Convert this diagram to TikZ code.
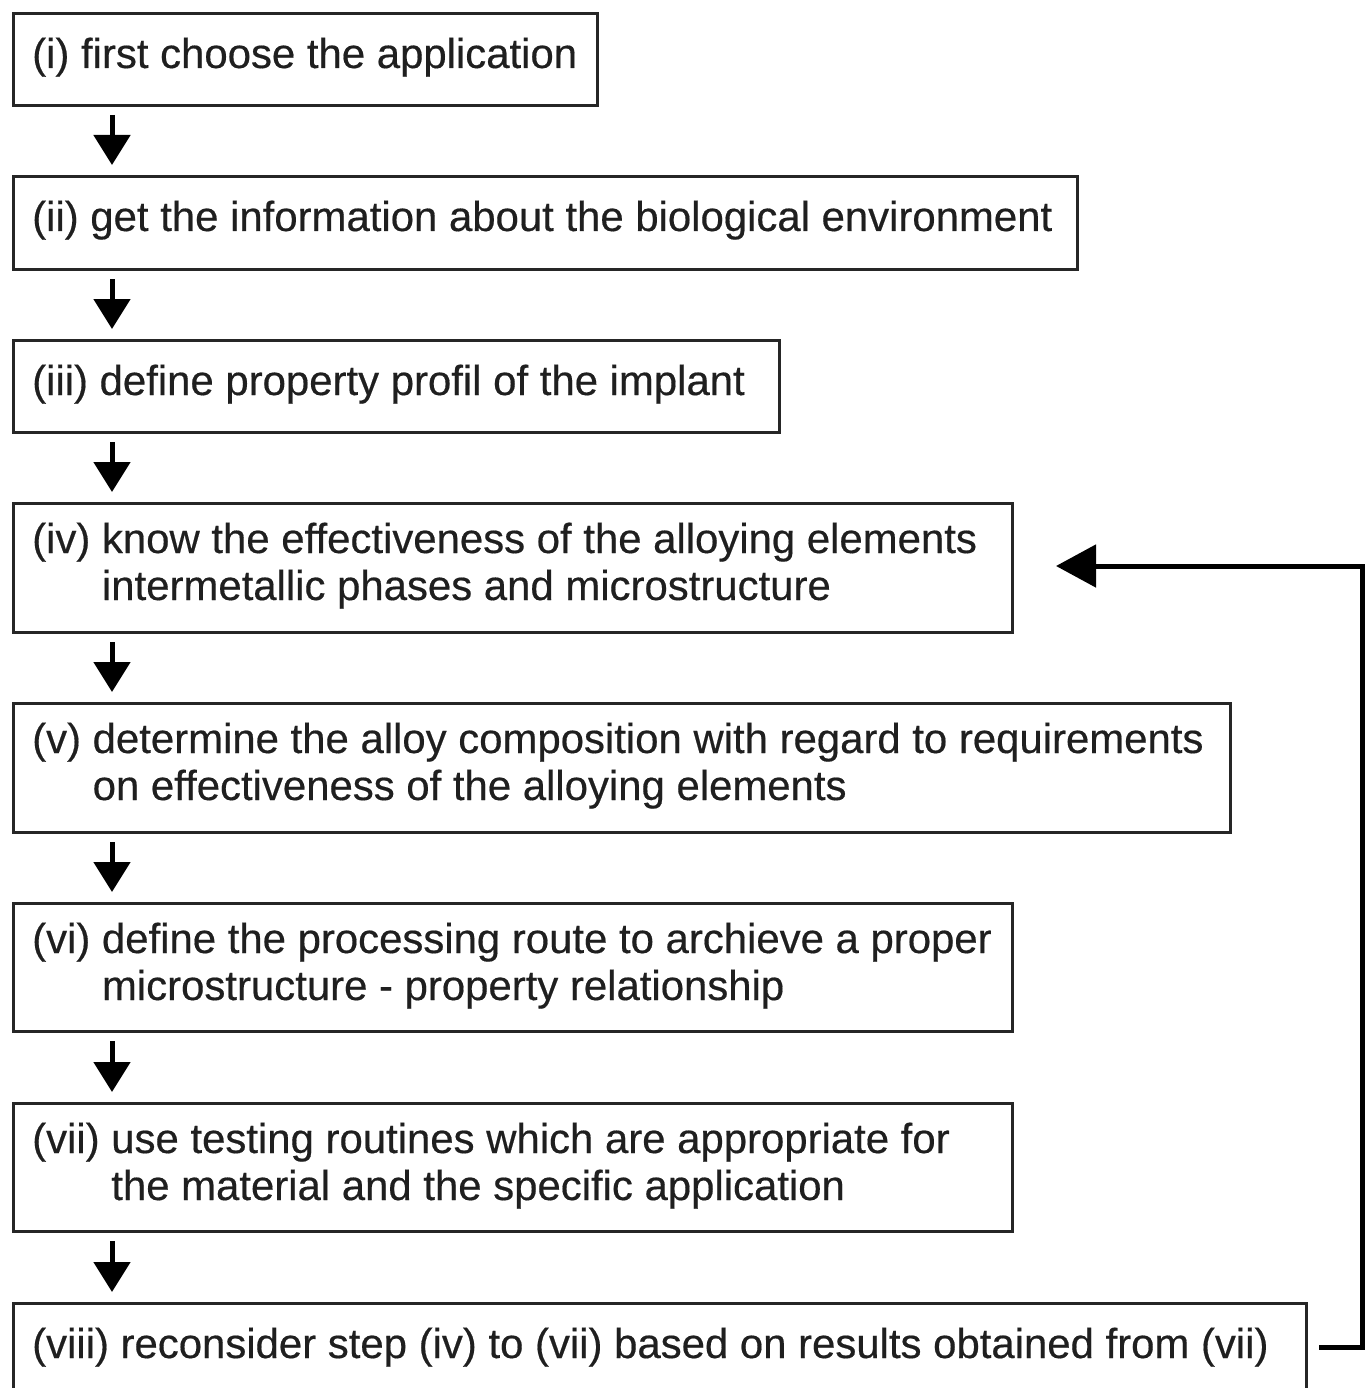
\documentclass[tikz,border=0pt]{standalone}
\usepackage{fontspec}
\setmainfont{Liberation Sans}[UprightFeatures={FakeBold=0.4}]
\usetikzlibrary{arrows.meta}
\begin{document}
\begin{tikzpicture}[x=1pt,y=-1pt,
  box/.style={draw=black!85, line width=3pt, anchor=north west, inner sep=0pt},
  txt/.style={anchor=base west, inner sep=0pt, text=black!88, font=\fontsize{41.9}{46}\selectfont},
  arr/.style={line width=5pt, black, -{Triangle[length=30pt,width=36pt]}},
  fb/.style={line width=5pt, black, -{Triangle[length=40pt,width=42pt]}}
]
\useasboundingbox (0,0) rectangle (1364,1388);
\fill[white] (0,0) rectangle (1364,1388);
% boxes
\node[box, minimum width=584pt, minimum height=92pt]  (b1) at (12,12)   {};
\node[box, minimum width=1064pt, minimum height=93pt] (b2) at (12,175)  {};
\node[box, minimum width=766pt, minimum height=92pt]  (b3) at (12,339)  {};
\node[box, minimum width=999pt, minimum height=129pt] (b4) at (12,502)  {};
\node[box, minimum width=1217pt, minimum height=129pt](b5) at (12,702)  {};
\node[box, minimum width=999pt, minimum height=128pt] (b6) at (12,902)  {};
\node[box, minimum width=999pt, minimum height=128pt] (b7) at (12,1102) {};
\node[box, minimum width=1293pt, minimum height=130pt](b8) at (12,1302) {};
% texts
\node[txt] (t1)  at (32,68)   {(i) first choose the application};
\node[txt] (t2)  at (32,231)  {(ii) get the information about the biological environment};
\node[txt] (t3)  at (32,395)  {(iii) define property profil of the implant};
\node[txt] (t4a) at (32,553)  {(iv) know the effectiveness of the alloying elements};
\node[txt] (t4b) at (32,600)  {\phantom{(iv)}\ intermetallic phases and microstructure};
\node[txt] (t5a) at (32,753)  {(v) determine the alloy composition with regard to requirements};
\node[txt] (t5b) at (32,800)  {\phantom{(v)}\ on effectiveness of the alloying elements};
\node[txt] (t6a) at (32,953)  {(vi) define the processing route to archieve a proper};
\node[txt] (t6b) at (32,1000) {\phantom{(vi)}\ microstructure - property relationship};
\node[txt] (t7a) at (32,1153) {(vii) use testing routines which are appropriate for};
\node[txt] (t7b) at (32,1200) {\phantom{(vii)}\ the material and the specific application};
\node[txt] (t8)  at (32,1358) {(viii) reconsider step (iv) to (vii) based on results obtained from (vii)};
% arrows
\foreach \a/\b in {b1/b2,b2/b3,b3/b4,b4/b5,b5/b6,b6/b7,b7/b8}{
  \draw[arr] ([xshift=100pt,yshift=-8pt]\a.south west) -- ([xshift=100pt,yshift=10pt]\b.north west);
}
% feedback
\coordinate (c1) at (1362,1347);
\coordinate (c2) at (1362,566);
\draw[fb] ([xshift=11pt]b8.east |- c1) -- (c1) -- (c2) -- ([xshift=42pt]b4.east |- c2);
\end{tikzpicture}
\end{document}
